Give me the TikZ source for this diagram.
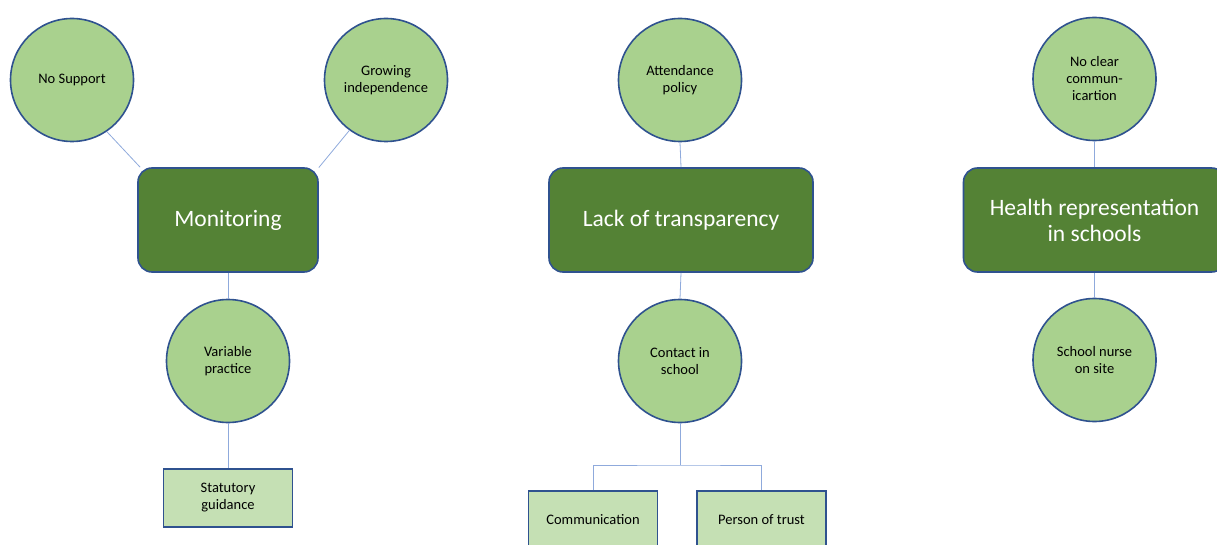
\documentclass[tikz,border=0pt]{standalone}
\usepackage{fontspec}
\setmainfont{Carlito}
\definecolor{cfill}{HTML}{A9D18E}
\definecolor{cborder}{HTML}{2F528F}
\definecolor{dgreen}{HTML}{548235}
\definecolor{lgreen}{HTML}{C5E0B4}
\definecolor{lineblue}{HTML}{8FAADC}
\tikzset{
  circ/.style={circle, draw=cborder, line width=1.6pt, fill=cfill, minimum size=123pt, inner sep=0pt, align=center, font=\fontsize{14.5}{17}\selectfont},
  mainbox/.style={rectangle, rounded corners=14pt, draw=cborder, line width=1.6pt, fill=dgreen, text=white, minimum height=104pt, inner sep=0pt, align=center, font=\fontsize{23.5}{26}\selectfont},
  leaf/.style={rectangle, draw=cborder, line width=1.6pt, fill=lgreen, minimum width=129pt, minimum height=58pt, inner sep=0pt, align=center, font=\fontsize{14.5}{17}\selectfont},
  conn/.style={draw=lineblue, line width=0.8pt}
}
\begin{document}
\begin{tikzpicture}[x=1pt,y=-1pt]
\useasboundingbox (0,0) rectangle (1217,545);
% left column
\node[circ] (ns) at (72,80) {No Support};
\node[circ] (gi) at (386,80) {Growing\\independence};
\node[mainbox, minimum width=180pt] (mon) at (228,220) {Monitoring};
\node[circ] (vp) at (228,361) {Variable\\practice};
\node[leaf] (sg) at (228,498) {Statutory\\guidance};
% middle column
\node[circ] (ap) at (680,80) {Attendance\\policy};
\node[mainbox, minimum width=264pt] (lot) at (681,220) {Lack of transparency};
\node[circ] (cis) at (680,361) {Contact in\\school};
\node[leaf] (com) at (593,520) {Communication};
\node[leaf] (pot) at (761.5,520) {Person of trust};
\coordinate (j) at (680,465);
% right column
\node[circ] (ncc) at (1094.5,79) {No clear\\commun-\\icartion};
\node[mainbox, minimum width=262pt] (hrs) at (1094.5,220) {Health representation\\in schools};
\node[circ] (sns) at (1094.5,360) {School nurse\\on site};
% connectors
\draw[conn] (ns.-56) -- (mon.149);
\draw[conn] (gi.-126) -- (mon.30.5);
\draw[conn] (mon.south) -- (vp.north);
\draw[conn] (vp.south) -- (sg.north);
\draw[conn] (ap.south) -- (lot.north);
\draw[conn] (lot.south) -- (cis.north);
\draw[conn] (cis.south) -- (j);
\draw[conn] (com.north) |- (j) -| (pot.north);
\draw[conn] (ncc.south) -- (hrs.north);
\draw[conn] (hrs.south) -- (sns.north);
\end{tikzpicture}
\end{document}
